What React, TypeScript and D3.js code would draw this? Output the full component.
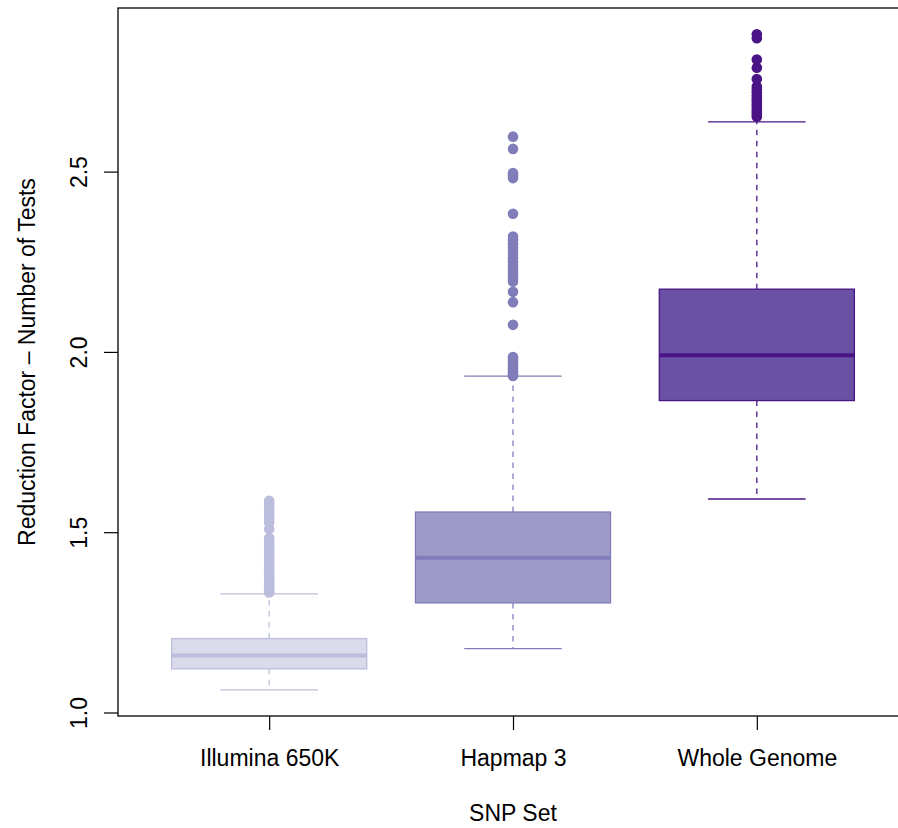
import React, { useEffect, useRef } from "react";
import * as d3 from "d3";

const width = 898;
const height = 828;
const frame = { left: 118, top: 8, right: 908, bottom: 716 };

// box statistics
const categories = ["Illumina 650K", "Hapmap 3", "Whole Genome"];
const lowerWhisker = [1.063, 1.177, 1.592];
const q1 = [1.121, 1.304, 1.865];
const median = [1.158, 1.429, 1.991];
const q3 = [1.205, 1.556, 2.174];
const upperWhisker = [1.329, 1.933, 2.638];

const outliersIllumina = [
    1.333, 1.338, 1.343, 1.349, 1.355, 1.361, 1.367, 1.373, 1.379, 1.386, 1.392, 1.398,
    1.405, 1.412, 1.419, 1.426, 1.433, 1.44, 1.447, 1.455, 1.463, 1.471, 1.478, 1.484,
    1.509, 1.527, 1.534, 1.541, 1.548, 1.556, 1.563, 1.571, 1.579, 1.587,
];
const outliersHapmap = [
    1.933, 1.937, 1.941, 1.946, 1.951, 1.956, 1.962, 1.968, 1.974, 1.98, 1.986,
    2.075, 2.138, 2.167, 2.195, 2.203, 2.212, 2.221, 2.23, 2.24, 2.25, 2.26, 2.27,
    2.28, 2.29, 2.3, 2.31, 2.32, 2.383, 2.482, 2.49, 2.496, 2.563, 2.597,
];
const outliersWhole = [
    2.652, 2.658, 2.664, 2.67, 2.677, 2.684, 2.691, 2.698, 2.705, 2.712, 2.72, 2.728,
    2.736, 2.757, 2.788, 2.811, 2.87, 2.881,
];
const outliers = [outliersIllumina, outliersHapmap, outliersWhole];

const fills = ["#dadaeb", "#9e9ac8", "#6a51a3"];
const borders = ["#bcbddc", "#807dba", "#4a1486"];

const yTicks = [1.0, 1.5, 2.0, 2.5];
const font = "'Liberation Sans', Arial, Helvetica, sans-serif";
const fontSize = 23;

export default function App() {
    const ref = useRef<SVGSVGElement | null>(null);

    useEffect(() => {
        const svg = d3.select(ref.current);
        svg.selectAll("*").remove();

        const allVals = [...lowerWhisker, ...upperWhisker, ...outliers.flat()];
        const lo = d3.min(allVals) as number;
        const hi = d3.max(allVals) as number;
        const pad = (hi - lo) * 0.04;

        const x = d3.scaleLinear()
            .domain([0.38, 3.62])
            .range([frame.left, frame.right]);
        const y = d3.scaleLinear()
            .domain([lo - pad, hi + pad])
            .range([frame.bottom, frame.top]);

        const halfBox = x(1.4) - x(1);
        const halfStaple = halfBox / 2;

        const boxes = svg.append("g");
        categories.forEach((c, i) => {
            const cx = x(i + 1);
            const g = boxes.append("g");
            // whiskers
            g.append("line")
                .attr("x1", cx).attr("x2", cx)
                .attr("y1", y(q3[i])).attr("y2", y(upperWhisker[i]))
                .attr("stroke", borders[i]).attr("stroke-width", 1.3)
                .attr("stroke-dasharray", "5.5,5.5");
            g.append("line")
                .attr("x1", cx).attr("x2", cx)
                .attr("y1", y(q1[i])).attr("y2", y(lowerWhisker[i]))
                .attr("stroke", borders[i]).attr("stroke-width", 1.3)
                .attr("stroke-dasharray", "5.5,5.5");
            // staples
            [upperWhisker[i], lowerWhisker[i]].forEach(v => {
                g.append("line")
                    .attr("x1", cx - halfStaple).attr("x2", cx + halfStaple)
                    .attr("y1", y(v)).attr("y2", y(v))
                    .attr("stroke", borders[i]).attr("stroke-width", 1.3);
            });
            // box
            g.append("rect")
                .attr("x", cx - halfBox)
                .attr("y", y(q3[i]))
                .attr("width", halfBox * 2)
                .attr("height", y(q1[i]) - y(q3[i]))
                .attr("fill", fills[i])
                .attr("stroke", borders[i])
                .attr("stroke-width", 1.3);
            g.append("line")
                .attr("x1", cx - halfBox).attr("x2", cx + halfBox)
                .attr("y1", y(median[i])).attr("y2", y(median[i]))
                .attr("stroke", borders[i]).attr("stroke-width", 4);
            // outliers
            g.selectAll("circle")
                .data(outliers[i])
                .enter()
                .append("circle")
                .attr("cx", cx)
                .attr("cy", d => y(d))
                .attr("r", 5.3)
                .attr("fill", borders[i]);
        });

        // frame
        svg.append("rect")
            .attr("x", frame.left).attr("y", frame.top)
            .attr("width", frame.right - frame.left)
            .attr("height", frame.bottom - frame.top)
            .attr("fill", "none")
            .attr("stroke", "#000")
            .attr("stroke-width", 1.3);

        const yAxis = svg.append("g")
            .attr("transform", `translate(${frame.left},0)`)
            .call(d3.axisLeft(y).tickValues(yTicks).tickSize(14).tickFormat(d3.format(".1f")));
        yAxis.select(".domain").remove();
        yAxis.selectAll("line").attr("stroke", "#000").attr("stroke-width", 1.2);
        yAxis.selectAll("text")
            .attr("x", null).attr("dy", null)
            .attr("transform", "translate(-31,0) rotate(-90)")
            .attr("text-anchor", "middle")
            .attr("font-family", font)
            .attr("font-size", fontSize)
            .attr("fill", "#000");

        const xAxis = svg.append("g")
            .attr("transform", `translate(0,${frame.bottom})`)
            .call(d3.axisBottom(x).tickValues([1, 2, 3]).tickSize(14)
                .tickFormat(d => categories[(d as number) - 1]));
        xAxis.select(".domain").remove();
        xAxis.selectAll("line").attr("stroke", "#000").attr("stroke-width", 1.2);
        xAxis.selectAll("text")
            .attr("y", 50).attr("dy", null)
            .attr("font-family", font)
            .attr("font-size", fontSize)
            .attr("fill", "#000");

        svg.append("text")
            .attr("x", x(2)).attr("y", 821)
            .attr("text-anchor", "middle")
            .attr("font-family", font)
            .attr("font-size", fontSize)
            .text("SNP Set");

        svg.append("text")
            .attr("transform", `translate(35,${(frame.top + frame.bottom) / 2}) rotate(-90)`)
            .attr("text-anchor", "middle")
            .attr("font-family", font)
            .attr("font-size", fontSize)
            .text("Reduction Factor \u2013 Number of Tests");
    }, []);

    return (
        <svg
            ref={ref}
            width={width}
            height={height}
            style={{ position: "absolute", left: 0, top: 0, background: "#fff" }}
        />
    );
}
